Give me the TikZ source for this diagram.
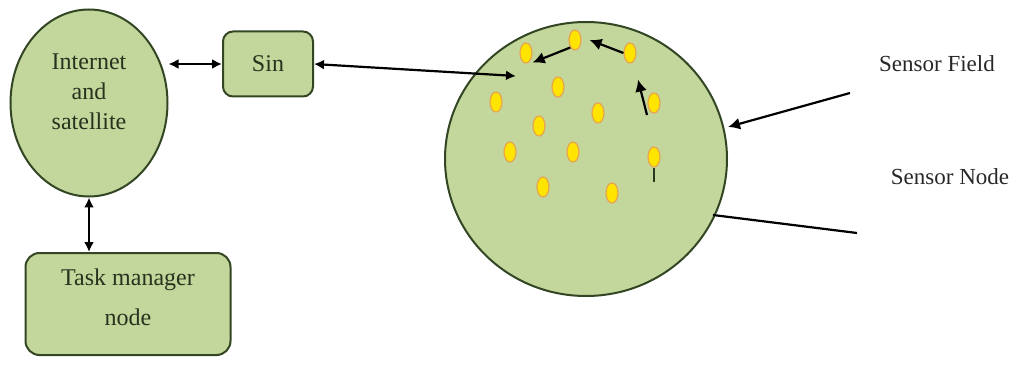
\documentclass[tikz,border=0pt]{standalone}
\usepackage{fontspec}
\setmainfont{Liberation Serif}
\usetikzlibrary{shapes.geometric,arrows.meta}
\definecolor{fieldgreen}{RGB}{195,214,155}
\definecolor{edgegreen}{RGB}{50,70,35}
\definecolor{textgreen}{RGB}{40,50,30}
\definecolor{dotyellow}{RGB}{255,228,0}
\definecolor{dotorange}{RGB}{232,165,80}
\definecolor{labelgrey}{RGB}{40,40,40}

\begin{document}
\begin{tikzpicture}[x=0.5pt,y=-0.5pt,
    greenshape/.style={draw=edgegreen, fill=fieldgreen, line width=1pt, text=textgreen,
        font=\fontsize{12}{15}\selectfont, align=center},
    sensordot/.style={ellipse, draw=dotorange, fill=dotyellow, line width=0.6pt,
        minimum width=6pt, minimum height=10pt, inner sep=0pt},
    link/.style={line width=1.1pt, {Latex[length=5pt,width=5pt]}-{Latex[length=5pt,width=5pt]}},
    hop/.style={line width=1.1pt, -{Latex[length=6pt,width=6pt]}},
    fieldlabel/.style={text=labelgrey, font=\fontsize{11.5}{14}\selectfont}]
    \useasboundingbox (0,0) rectangle (1013,369);
    % linke Seite:
    \node[greenshape, ellipse, minimum width=78.5pt, minimum height=93.5pt] (inet) at (89,103) {}; % Ellipse
    \node[text=textgreen, font=\fontsize{12}{15}\selectfont, align=center] (inettext) at (89,92) {Internet\\and\\satellite};
    \node[greenshape, rounded corners=5pt, minimum width=45pt, minimum height=32.5pt] (sin) at (268,64) {Sin};
    \node[greenshape, rounded corners=7pt, minimum width=102.5pt, minimum height=51pt,
        font=\fontsize{12}{20}\selectfont] (task) at (128,304) {Task manager\\node\\[-13pt]};
    % Sensorfeld:
    \node[ellipse, draw=edgegreen, fill=fieldgreen, line width=1pt,
        minimum width=141pt, minimum height=137pt] (field) at (586,159) {};
    \node[sensordot] (s1) at (575,40) {};
    \node[sensordot] (s2) at (526,53) {};
    \node[sensordot] (s3) at (630,53) {};
    \node[sensordot] (s4) at (558,87) {};
    \node[sensordot] (s5) at (496,102) {};
    \node[sensordot] (s6) at (654,103) {};
    \node[sensordot] (s7) at (598,113) {};
    \node[sensordot] (s8) at (539,126) {};
    \node[sensordot] (s9) at (510,152) {};
    \node[sensordot] (s10) at (573,152) {};
    \node[sensordot] (s11) at (654,157) {};
    \node[sensordot] (s12) at (543,187) {};
    \node[sensordot] (s13) at (612,193) {};
    \coordinate (hub) at (516,76);
    % Verbindungen:
    \draw[link] (inet.east |- sin.west) -- (sin.west);
    \draw[link] (inet.south) -- (task.north -| inet.south);
    \draw[link] (sin.east) -- (hub);
    \draw[hop] (s1.south west) -- ([shift={(2,2)}]s2.south east);
    \draw[hop] (s3.west) -- ([xshift=4]s1.east);
    \draw[hop] ([shift={(-7,12)}]s6.center) -- ([shift={(8,16)}]s3.south);
    \draw[line width=1.2pt, draw=edgegreen!80!black] (s11.south) -- ++(0,14);
    % Beschriftungen:
    \node[fieldlabel] (fieldname) at (937,64) {Sensor Field};
    \node[fieldlabel] (nodename) at (950,177) {Sensor Node};
    \coordinate (fieldtail) at (850,93);
    \coordinate (nodetail) at (857,233);
    \draw[hop] (fieldtail) -- (field.east |- 0,127);
    \draw[line width=1.1pt] (nodetail) -- (713,215);
\end{tikzpicture}
\end{document}
